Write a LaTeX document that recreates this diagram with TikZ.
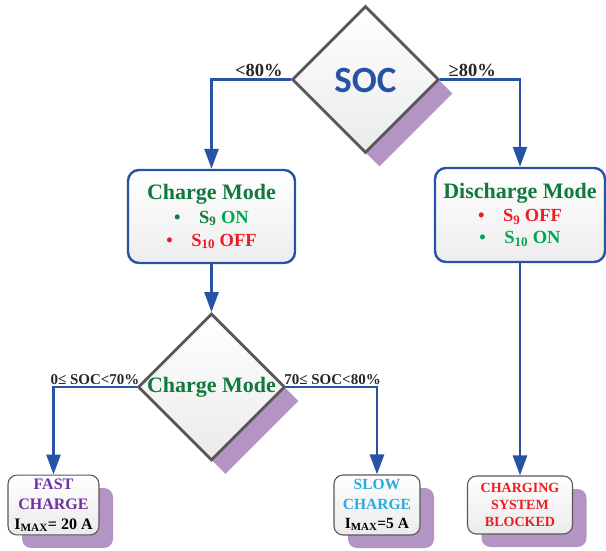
\documentclass[tikz,border=0pt]{standalone}
\usepackage{fontspec}
\setmainfont{Liberation Serif}
\newfontfamily\socfont{Carlito}
\usetikzlibrary{shapes.geometric, arrows.meta, shadows}

\definecolor{flowblue}{RGB}{40,82,165}
\definecolor{shadepurple}{RGB}{180,148,196}
\definecolor{edgegray}{RGB}{88,88,88}
\definecolor{modegreen}{RGB}{16,122,62}
\definecolor{ongreen}{RGB}{0,166,81}
\definecolor{offred}{RGB}{237,28,36}
\definecolor{fastpurple}{RGB}{112,48,160}
\definecolor{slowcyan}{RGB}{41,171,226}

\tikzset{
  flow/.style={draw=flowblue, line width=2.6pt, -{Triangle[length=20pt, width=14pt]}},
  decision/.style={diamond, draw=edgegray, line width=2.8pt, aspect=1,
    minimum width=147pt, minimum height=147pt, inner sep=0pt,
    top color=white, bottom color=black!8,
    drop shadow={shadow xshift=14pt, shadow yshift=-14pt, fill=shadepurple, opacity=1}},
  modebox/.style={draw=flowblue, line width=2.4pt, rounded corners=11pt,
    top color=white, bottom color=black!7, align=center,
    font=\bfseries\fontsize{18.5}{22}\selectfont},
  endbox/.style={draw=edgegray, line width=1.1pt, rounded corners=9pt,
    top color=white, bottom color=black!8, align=center,
    drop shadow={shadow xshift=14pt, shadow yshift=-13pt, fill=shadepurple, opacity=1}},
  cond/.style={font=\bfseries\fontsize{18.5}{18.5}\selectfont, inner sep=1.5pt, text=black!85},
  subcond/.style={cond, font=\bfseries\fontsize{15}{15}\selectfont}
}

\begin{document}
\begin{tikzpicture}[x=1pt, y=-1pt]
  \useasboundingbox (0,0) rectangle (606,550);

  % decisions
  \node [decision] (soc) at (365.5,79.5) {};
  \node [text=flowblue, font=\socfont\bfseries\fontsize{37}{37}\selectfont] (soctext) at (365.5,80) {SOC};
  \node [decision] (chdec) at (211.5,387) {};
  \node [text=modegreen, font=\bfseries\fontsize{22}{22}\selectfont] (chdectext) at (211.5,387) {Charge Mode};

  % modes
  \node [modebox, minimum width=167pt, minimum height=93pt] (charge) at (211.5,216.5)
    {{\fontsize{22}{25}\selectfont\color{modegreen}Charge Mode}\\[2pt]
     {\color{modegreen}\textbullet\quad S\textsubscript{9}} {\color{ongreen}ON}\\[1pt]
     {\color{offred}\textbullet\quad S\textsubscript{10} OFF}};
  \node [modebox, minimum width=170pt, minimum height=94pt] (discharge) at (520,215)
    {{\fontsize{22}{25}\selectfont\color{modegreen}Discharge Mode}\\[1pt]
     {\color{offred}\textbullet\quad S\textsubscript{9} OFF}\\
     {\color{ongreen}\textbullet\quad S\textsubscript{10} ON}};

  % results
  \node [endbox, minimum width=91pt, minimum height=58pt, font=\bfseries\fontsize{16}{20}\selectfont] (fast) at (53.5,505)
    {\textcolor{fastpurple}{FAST}\\ \textcolor{fastpurple}{CHARGE}\\ I\textsubscript{MAX}= 20 A};
  \node [endbox, minimum width=86pt, minimum height=60pt, font=\bfseries\fontsize{15.5}{19.5}\selectfont] (slow) at (377,505)
    {\textcolor{slowcyan}{SLOW}\\ \textcolor{slowcyan}{CHARGE}\\ I\textsubscript{MAX}=5 A};
  \node [endbox, minimum width=105pt, minimum height=58pt, text=offred, font=\bfseries\fontsize{14}{17}\selectfont] (blocked) at (520,505)
    {CHARGING\\ SYSTEM\\ BLOCKED};

  % connectors
  \draw [flow] (soc.west) -| node [cond, above, pos=0.2] {<80\%} (charge.north);
  \draw [flow] (soc.east) -| node [cond, above, pos=0.2] {≥80\%} (discharge.north);
  \draw [flow] (charge.south) -- (chdec.north);
  \draw [flow] (chdec.west) -| node [subcond, above, pos=0.25] {0≤ SOC<70\%} (fast.north);
  \draw [flow] (chdec.east) -| node [subcond, above, pos=0.255] {70≤ SOC<80\%} (slow.north);
  \draw [flow] (discharge.south) -- (blocked.north);
\end{tikzpicture}
\end{document}
